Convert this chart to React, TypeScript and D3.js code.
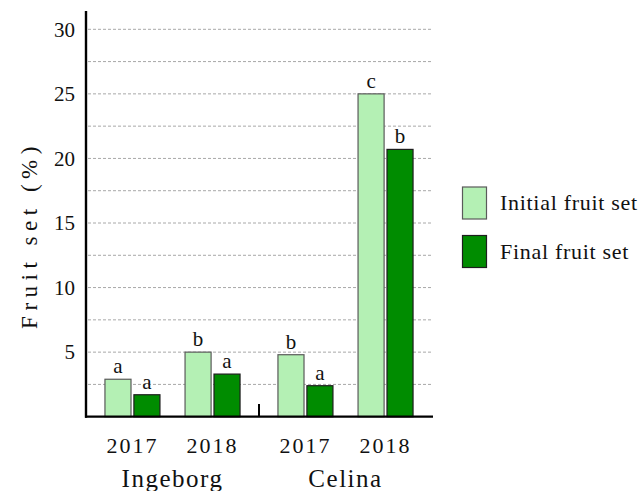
import React from "react";
import * as d3 from "d3";

const varieties = ["Ingeborg", "Celina"];
const years = ["2017", "2018"];
const seriesNames = ["Initial fruit set", "Final fruit set"];
// values[variety][year] = [initial, final]
const ingeborgInitial = [2.9, 5.0];
const ingeborgFinal = [1.7, 3.3];
const celinaInitial = [4.8, 25.0];
const celinaFinal = [2.4, 20.7];
const ingeborgLetters = [["a", "a"], ["b", "a"]];
const celinaLetters = [["b", "a"], ["c", "b"]];
const yLabelTicks = [5, 10, 15, 20, 25, 30];
const yGridTicks = [2.5, 5, 7.5, 10, 12.5, 15, 17.5, 20, 22.5, 25, 27.5, 30];

const W = 643;
const H = 491;
const FONT = "'Liberation Serif', 'Times New Roman', serif";
const colors = ["#b4f0b4", "#008c00"];
const strokes = ["#5a5a5a", "#1e1e1e"];

export default function App() {
  const x0 = 86;
  const x1 = 432;
  const yBase = 416.7;
  const yTop = 29.3;

  const y = d3.scaleLinear().domain([0, 30]).range([yBase, yTop]);
  const xVar = d3.scaleBand().domain(varieties).range([x0, x1]).padding(0);
  const xYear = d3.scalePoint().domain(years).range([0, xVar.bandwidth()]).padding(0.58);
  const xSer = d3.scaleBand().domain(seriesNames).range([-27.5, 27.5]).paddingInner(0.1);

  const data = [
    { variety: "Ingeborg", init: ingeborgInitial, fin: ingeborgFinal, letters: ingeborgLetters },
    { variety: "Celina", init: celinaInitial, fin: celinaFinal, letters: celinaLetters },
  ];

  return (
    <svg
      width={W}
      height={H}
      style={{ position: "absolute", left: 0, top: 0, display: "block", background: "#fff" }}
      fontFamily={FONT}
    >
      {/* grid */}
      {yGridTicks.map((t) => (
        <line
          key={"g" + t}
          x1={x0 + 2}
          x2={x1 + 1}
          y1={y(t)}
          y2={y(t)}
          stroke="#a8a8a8"
          strokeWidth={1}
          strokeDasharray="3,2"
        />
      ))}
      {/* y tick labels */}
      {yLabelTicks.map((t) => (
        <text
          key={"l" + t}
          x={75}
          y={y(t)}
          dy="0.35em"
          textAnchor="end"
          fontSize={21}
          fill="#111"
        >
          {t}
        </text>
      ))}
      {/* bars */}
      {data.map((d) =>
        years.map((yr, yi) => {
          const cx = (xVar(d.variety) as number) + (xYear(yr) as number);
          const vals = [d.init[yi], d.fin[yi]];
          return (
            <g key={d.variety + yr}>
              {seriesNames.map((s, si) => {
                const bx = cx + (xSer(s) as number);
                const top = y(vals[si]);
                return (
                  <g key={s}>
                    <rect
                      x={bx}
                      y={top}
                      width={xSer.bandwidth()}
                      height={yBase - top}
                      fill={colors[si]}
                      stroke={strokes[si]}
                      strokeWidth={1.2}
                    />
                    <text
                      x={bx + xSer.bandwidth() / 2}
                      y={top - 6}
                      textAnchor="middle"
                      fontSize={21}
                      fill="#111"
                    >
                      {d.letters[yi][si]}
                    </text>
                  </g>
                );
              })}
              <text
                x={cx}
                y={453.3}
                textAnchor="middle"
                fontSize={22}
                letterSpacing={2}
                fill="#111"
              >
                {yr}
              </text>
            </g>
          );
        })
      )}
      {/* variety labels */}
      {varieties.map((v) => (
        <text
          key={v}
          x={(xVar(v) as number) + xVar.bandwidth() / 2}
          y={486.5}
          textAnchor="middle"
          fontSize={25}
          letterSpacing={1.5}
          fill="#111"
        >
          {v}
        </text>
      ))}
      {/* axes */}
      <line x1={x0} x2={x0} y1={11} y2={yBase + 1} stroke="#000" strokeWidth={2.4} />
      <line x1={x0 - 1} x2={x1 + 1} y1={yBase} y2={yBase} stroke="#000" strokeWidth={2.2} />
      <line
        x1={(xVar("Celina") as number)}
        x2={(xVar("Celina") as number)}
        y1={404}
        y2={yBase}
        stroke="#000"
        strokeWidth={2}
      />
      {/* y title */}
      <text
        transform={`translate(36.5, 235) rotate(-90)`}
        textAnchor="middle"
        fontSize={23}
        letterSpacing={5.5}
        fill="#111"
      >
        Fruit set (%)
      </text>
      {/* legend */}
      {seriesNames.map((s, i) => (
        <g key={"lg" + s} transform={`translate(0, ${i * 48.5})`}>
          <rect
            x={462.5}
            y={187}
            width={24}
            height={32}
            fill={colors[i]}
            stroke={strokes[i]}
            strokeWidth={1.2}
          />
          <text x={500} y={210} fontSize={22} letterSpacing={0.7} fill="#111">
            {s}
          </text>
        </g>
      ))}
    </svg>
  );
}
